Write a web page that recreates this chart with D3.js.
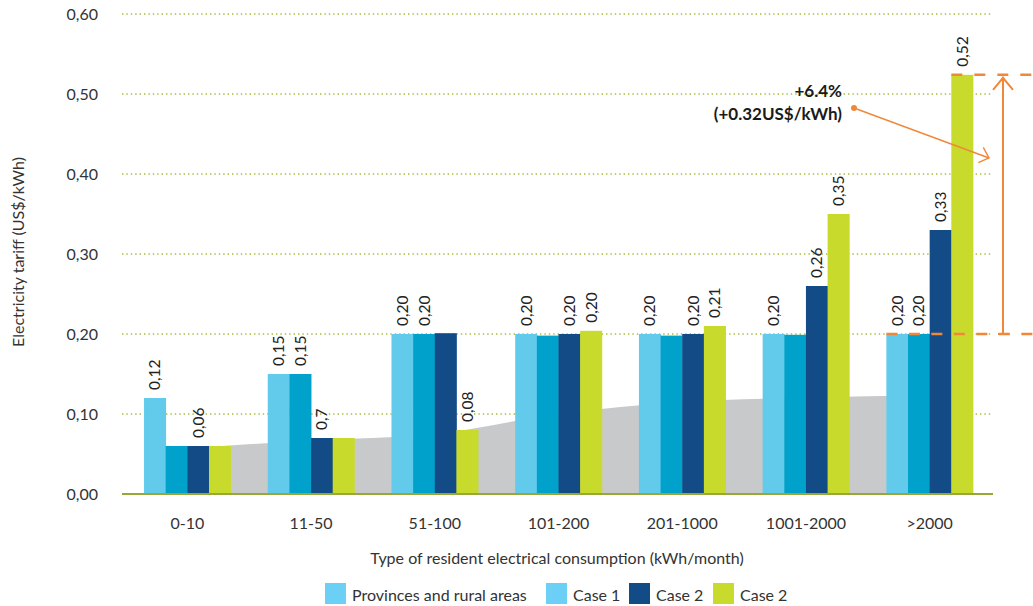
<!DOCTYPE html>
<html>
<head>
<meta charset="utf-8">
<script src="https://cdn.jsdelivr.net/npm/d3@7"></script>
<style>
  body { margin: 0; background: #fff; }
  svg { display: block; }
  text { font-family: Lato, "Open Sans", sans-serif; }
</style>
</head>
<body>
<svg id="chart" width="1033" height="606"></svg>
<script>
// Consumption brackets (kWh/month)
const categories = ["0-10", "11-50", "51-100", "101-200", "201-1000", "1001-2000", ">2000"];

// Tariffs per bracket, US$/kWh
const provinces = [0.12, 0.15, 0.20, 0.20, 0.20, 0.20, 0.20];
const case1     = [0.06, 0.15, 0.20, 0.198, 0.198, 0.199, 0.20];
const case2     = [0.06, 0.07, 0.201, 0.20, 0.20, 0.26, 0.33];
const case2b    = [0.06, 0.07, 0.08, 0.204, 0.21, 0.35, 0.524];

// Value labels printed above the bars (null = no label)
const provincesLabels = ["0,12", "0,15", "0,20", "0,20", "0,20", "0,20", "0,20"];
const case1Labels     = [null, "0,15", "0,20", null, null, null, "0,20"];
const case2Labels     = ["0,06", "0,7", null, "0,20", "0,20", "0,26", "0,33"];
const case2bLabels    = [null, null, "0,08", "0,20", "0,21", "0,35", "0,52"];

// Grey background band behind the bars
const shadeLevel = [0.057, 0.067, 0.075, 0.100, 0.115, 0.1205, 0.1235];

// Axis ticks
const yTicks = [0, 0.1, 0.2, 0.3, 0.4, 0.5, 0.6];

// Legend entries
const legendNames = ["Provinces and rural areas", "Case 1", "Case 2", "Case 2"];

// Annotation text
const noteLines = ["+6.4%", "(+0.32US$/kWh)"];
const noteFrom = 0.20, noteTo = 0.524;

const barColors    = ["#62cbec", "#00a1cb", "#124b86", "#c8da2b"];
const legendColors = ["#6ccff5", "#6ccff5", "#124b86", "#c8da2b"];
const orange = "#f0883a";

const series = [
  { values: provinces, labels: provincesLabels },
  { values: case1,     labels: case1Labels },
  { values: case2,     labels: case2Labels },
  { values: case2b,    labels: case2bLabels }
];

const svg = d3.select("#chart");
const plotLeft = 122, plotRight = 993, plotTop = 14, plotBottom = 494;

const x0 = d3.scaleBand().domain(categories).range([123, 994]).paddingInner(0.3).paddingOuter(0.17);
const x1 = d3.scaleBand().domain(d3.range(series.length)).range([0, x0.bandwidth()]);
const y = d3.scaleLinear().domain([0, 0.6]).range([plotBottom, plotTop]);

// Gridlines
svg.append("g").selectAll("line")
  .data(yTicks.filter(d => d > 0))
  .join("line")
  .attr("x1", plotLeft).attr("x2", plotRight)
  .attr("y1", d => y(d)).attr("y2", d => y(d))
  .attr("stroke", "#a9bd3c")
  .attr("stroke-width", 1.4)
  .attr("stroke-dasharray", "1.4 3");

// Grey background area
const area = d3.area()
  .x((d, i) => x0(categories[i]) + x0.bandwidth() / 2)
  .y0(y(0))
  .y1(d => y(d))
  .curve(d3.curveMonotoneX);
svg.append("path")
  .datum(shadeLevel)
  .attr("d", area)
  .attr("fill", "#c8c9cb");

// Bars
const groups = svg.append("g").selectAll("g")
  .data(categories)
  .join("g")
  .attr("transform", d => `translate(${x0(d)},0)`);

groups.selectAll("rect")
  .data((c, ci) => series.map((s, si) => ({ si, v: s.values[ci] })))
  .join("rect")
  .attr("x", d => x1(d.si))
  .attr("width", x1.bandwidth() + 0.4)
  .attr("y", d => y(d.v))
  .attr("height", d => y(0) - y(d.v))
  .attr("fill", d => barColors[d.si]);

// Rotated value labels
groups.selectAll("text")
  .data((c, ci) => series.map((s, si) => ({ si, v: s.values[ci], t: s.labels[ci] })).filter(d => d.t))
  .join("text")
  .attr("transform", d => `translate(${x1(d.si) + x1.bandwidth() / 2},${y(d.v) - 8}) rotate(-90)`)
  .attr("dy", "0.36em")
  .attr("font-size", 15.5)
  .attr("fill", "#222")
  .text(d => d.t);

// Baseline
svg.append("line")
  .attr("x1", plotLeft).attr("x2", plotRight)
  .attr("y1", y(0)).attr("y2", y(0))
  .attr("stroke", "#95a838").attr("stroke-width", 2);

// Y axis
const yAxis = svg.append("g")
  .attr("transform", `translate(${plotLeft},0)`)
  .call(d3.axisLeft(y).tickValues(yTicks).tickSize(0).tickPadding(24)
    .tickFormat(d => d3.format(".2f")(d).replace(".", ",")));
yAxis.select(".domain").remove();
yAxis.selectAll("text").attr("font-size", 16).attr("fill", "#333").style("font-family", "Lato, sans-serif");

// X axis
const xAxis = svg.append("g")
  .attr("transform", `translate(0,${plotBottom})`)
  .call(d3.axisBottom(x0).tickSize(0).tickPadding(24));
xAxis.select(".domain").remove();
xAxis.selectAll("text").attr("font-size", 16).attr("fill", "#333").style("font-family", "Lato, sans-serif");

// Axis titles
svg.append("text")
  .attr("transform", "translate(24,252) rotate(-90)")
  .attr("text-anchor", "middle")
  .attr("font-size", 16).attr("fill", "#333")
  .text("Electricity tariff (US$/kWh)");

svg.append("text")
  .attr("x", 557).attr("y", 564)
  .attr("text-anchor", "middle")
  .attr("font-size", 16).attr("fill", "#333")
  .text("Type of resident electrical consumption (kWh/month)");

// Legend
const legendX = [325, 546, 629, 713];
const legend = svg.append("g").selectAll("g")
  .data(legendNames)
  .join("g")
  .attr("transform", (d, i) => `translate(${legendX[i]},583)`);
legend.append("rect").attr("width", 21).attr("height", 21).attr("fill", (d, i) => legendColors[i]);
legend.append("text").attr("x", 27).attr("y", 18).attr("font-size", 16).attr("fill", "#333").text(d => d);

// Increase annotation
const lastCat = categories[categories.length - 1];
const yFrom = y(noteFrom), yTo = y(noteTo);
const ann = svg.append("g").attr("stroke", orange).attr("fill", "none");
ann.append("line")
  .attr("x1", x0(lastCat)).attr("x2", 1033)
  .attr("y1", yFrom).attr("y2", yFrom)
  .attr("stroke-width", 2.6).attr("stroke-dasharray", "11 11.5");
ann.append("line")
  .attr("x1", x0(lastCat) + x1(3)).attr("x2", 1033)
  .attr("y1", yTo).attr("y2", yTo)
  .attr("stroke-width", 2.6).attr("stroke-dasharray", "11 12");

const ax = 1003;
ann.append("line").attr("x1", ax).attr("x2", ax).attr("y1", yFrom).attr("y2", yTo + 2).attr("stroke-width", 2);
ann.append("path").attr("d", `M${ax - 10},${yTo + 15}L${ax},${yTo + 3}L${ax + 10},${yTo + 15}`).attr("stroke-width", 2);
ann.append("line").attr("x1", ax - 5).attr("x2", ax + 5).attr("y1", yFrom).attr("y2", yFrom).attr("stroke-width", 2);

// Pointer from the note to the arrow
const p0 = [854, 108], p1 = [989, 158];
ann.append("line").attr("x1", p0[0]).attr("y1", p0[1]).attr("x2", p1[0]).attr("y2", p1[1]).attr("stroke-width", 1.4);
ann.append("path").attr("d", `M983.3,147.3L${p1[0]},${p1[1]}L978.3,162.7`).attr("stroke-width", 1.4);
svg.append("circle").attr("cx", p0[0]).attr("cy", p0[1]).attr("r", 3).attr("fill", orange);

svg.append("g").selectAll("text")
  .data(noteLines)
  .join("text")
  .attr("x", 842).attr("y", (d, i) => 97 + i * 23)
  .attr("text-anchor", "end")
  .attr("font-size", 17).attr("font-weight", "bold").attr("fill", "#1a1a1a")
  .text(d => d);
</script>
</body>
</html>
